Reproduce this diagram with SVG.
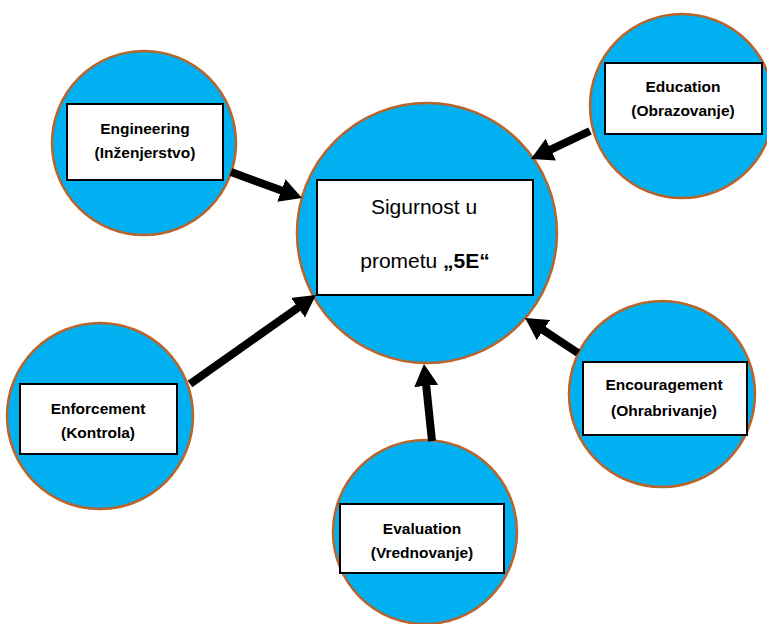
<svg xmlns="http://www.w3.org/2000/svg" width="767" height="624" viewBox="0 0 767 624">
<defs>
<style>
.c{fill:#00B0F0;stroke:#B8642A;stroke-width:2.5}
.b{fill:#fff;stroke:#000;stroke-width:2}
.t{font-family:"Liberation Sans",Arial,sans-serif;font-weight:bold;font-size:15.5px;fill:#000;text-anchor:middle}
.m{font-family:"Liberation Sans",Arial,sans-serif;font-size:21px;fill:#000;text-anchor:middle}
.a{stroke:#000;stroke-width:8;fill:none;marker-end:url(#ah)}
</style>
<marker id="ah" markerUnits="userSpaceOnUse" markerWidth="22" markerHeight="24" viewBox="0 0 22 24" refX="6" refY="12" orient="auto">
<path d="M0,0 L22,12 L0,24 z" fill="#000"/>
</marker>
</defs>
<rect width="767" height="624" fill="#fff"/>
<g id="center">
<circle class="c" cx="427" cy="233" r="130"/>
<rect class="b" x="317" y="180" width="216" height="115"/>
<text class="m" x="424" y="214">Sigurnost u</text>
<text class="m" x="425" y="268">prometu <tspan font-weight="bold">„5E“</tspan></text>
</g>
<g id="engineering">
<circle class="c" cx="144" cy="143" r="92"/>
<rect class="b" x="67" y="104" width="156" height="76"/>
<text class="t" x="145" y="134">Engineering</text>
<text class="t" x="145" y="158">(Inženjerstvo)</text>
</g>
<g id="education">
<circle class="c" cx="682" cy="106" r="92"/>
<rect class="b" x="605" y="63" width="157" height="71"/>
<text class="t" x="683" y="92">Education</text>
<text class="t" x="683" y="116">(Obrazovanje)</text>
</g>
<g id="enforcement">
<circle class="c" cx="100" cy="416" r="93"/>
<rect class="b" x="20" y="384" width="157" height="70"/>
<text class="t" x="98" y="414">Enforcement</text>
<text class="t" x="98" y="438">(Kontrola)</text>
</g>
<g id="evaluation">
<circle class="c" cx="425" cy="532" r="92"/>
<rect class="b" x="340" y="504" width="164" height="69"/>
<text class="t" x="422" y="534">Evaluation</text>
<text class="t" x="422" y="558">(Vrednovanje)</text>
</g>
<g id="encouragement">
<circle class="c" cx="662" cy="394" r="93"/>
<rect class="b" x="583" y="362" width="164" height="73"/>
<text class="t" x="664" y="390">Encouragement</text>
<text class="t" x="664" y="416">(Ohrabrivanje)</text>
</g>
<g id="connectors">
<line class="a" x1="231" y1="172" x2="287" y2="192.5"/>
<line class="a" x1="590" y1="131" x2="545.4" y2="152.1"/>
<line class="a" x1="190" y1="384" x2="302.9" y2="304.2"/>
<line class="a" x1="432" y1="441" x2="425.6" y2="379.9"/>
<line class="a" x1="578" y1="353" x2="538.4" y2="326.8"/>
</g>
</svg>
